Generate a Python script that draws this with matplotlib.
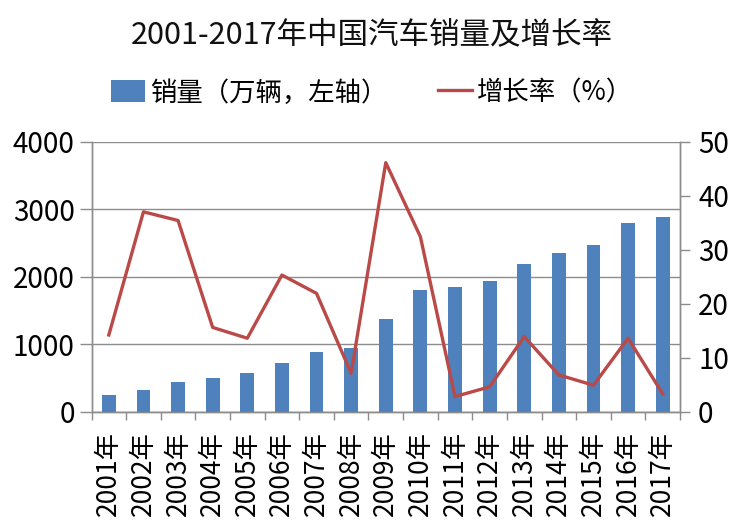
import matplotlib.pyplot as plt
import numpy as np

plt.rcParams['font.family'] = ['Noto Sans CJK SC', 'DejaVu Sans']

years = [str(y) + '年' for y in range(2001, 2018)]
# 销量（万辆）
sales = [242, 316, 444, 504, 573, 721, 889, 938, 1368, 1807,
         1842, 1931, 2193, 2356, 2464, 2795, 2889]
# 增长率（%）
growth = [14.2, 37.0, 35.4, 15.6, 13.6, 25.3, 21.9, 7.1, 46.1, 32.4,
          2.8, 4.6, 13.9, 6.8, 4.9, 13.6, 3.3]

fig = plt.figure(figsize=(7.44, 5.31), dpi=100)
ax = fig.add_axes([0.123, 0.2247, 0.791, 0.5086])
ax2 = ax.twinx()

x = np.arange(len(years))
grid_c = '#8c8c8c'

b = ax.bar(x, sales, width=0.4, color='#4f81bd', zorder=2, label='销量（万辆，左轴）')
ln, = ax2.plot(x, growth, color='#b94a48', lw=2.4, label='增长率（%）', zorder=3)

ax.set_xlim(-0.5, len(years) - 0.5)
ax.set_ylim(0, 4000)
ax.set_yticks([0, 1000, 2000, 3000, 4000])
ax2.set_ylim(0, 50)
ax2.set_yticks([0, 10, 20, 30, 40, 50])

ax.yaxis.grid(True, color=grid_c, lw=1)
ax.set_axisbelow(True)

ax.set_xticks(x)
ax.set_xticklabels(years, rotation=90, fontsize=19)
ax.set_xticks(np.arange(-0.5, len(years)), minor=True)
ax.tick_params(axis='x', which='major', length=0, pad=14)
ax.tick_params(axis='x', which='minor', length=6, color=grid_c, width=1)
ax.tick_params(axis='y', labelsize=20, length=9, color=grid_c, width=1, pad=3)
ax2.tick_params(axis='y', labelsize=20, length=7, color=grid_c, width=1, pad=6)

for a in (ax, ax2):
    a.spines['top'].set_visible(False)
    for s in ('left', 'right', 'bottom'):
        a.spines[s].set_color(grid_c)
        a.spines[s].set_linewidth(1)
# 轴线放在柱子下面
ax.spines['bottom'].set_zorder(1)

fig.text(0.5, 1 - 35 / 531, '2001-2017年中国汽车销量及增长率', ha='center', va='center',
         fontsize=22, color='#111111')
fig.legend([b, ln], ['销量（万辆，左轴）', '增长率（%）'], loc='center',
           bbox_to_anchor=(0.5, 1 - 93 / 531), ncol=2, frameon=False, fontsize=19,
           handlelength=1.3, handleheight=0.9, handletextpad=0.2, columnspacing=1.9)

fig.savefig('out.png', dpi=100)
